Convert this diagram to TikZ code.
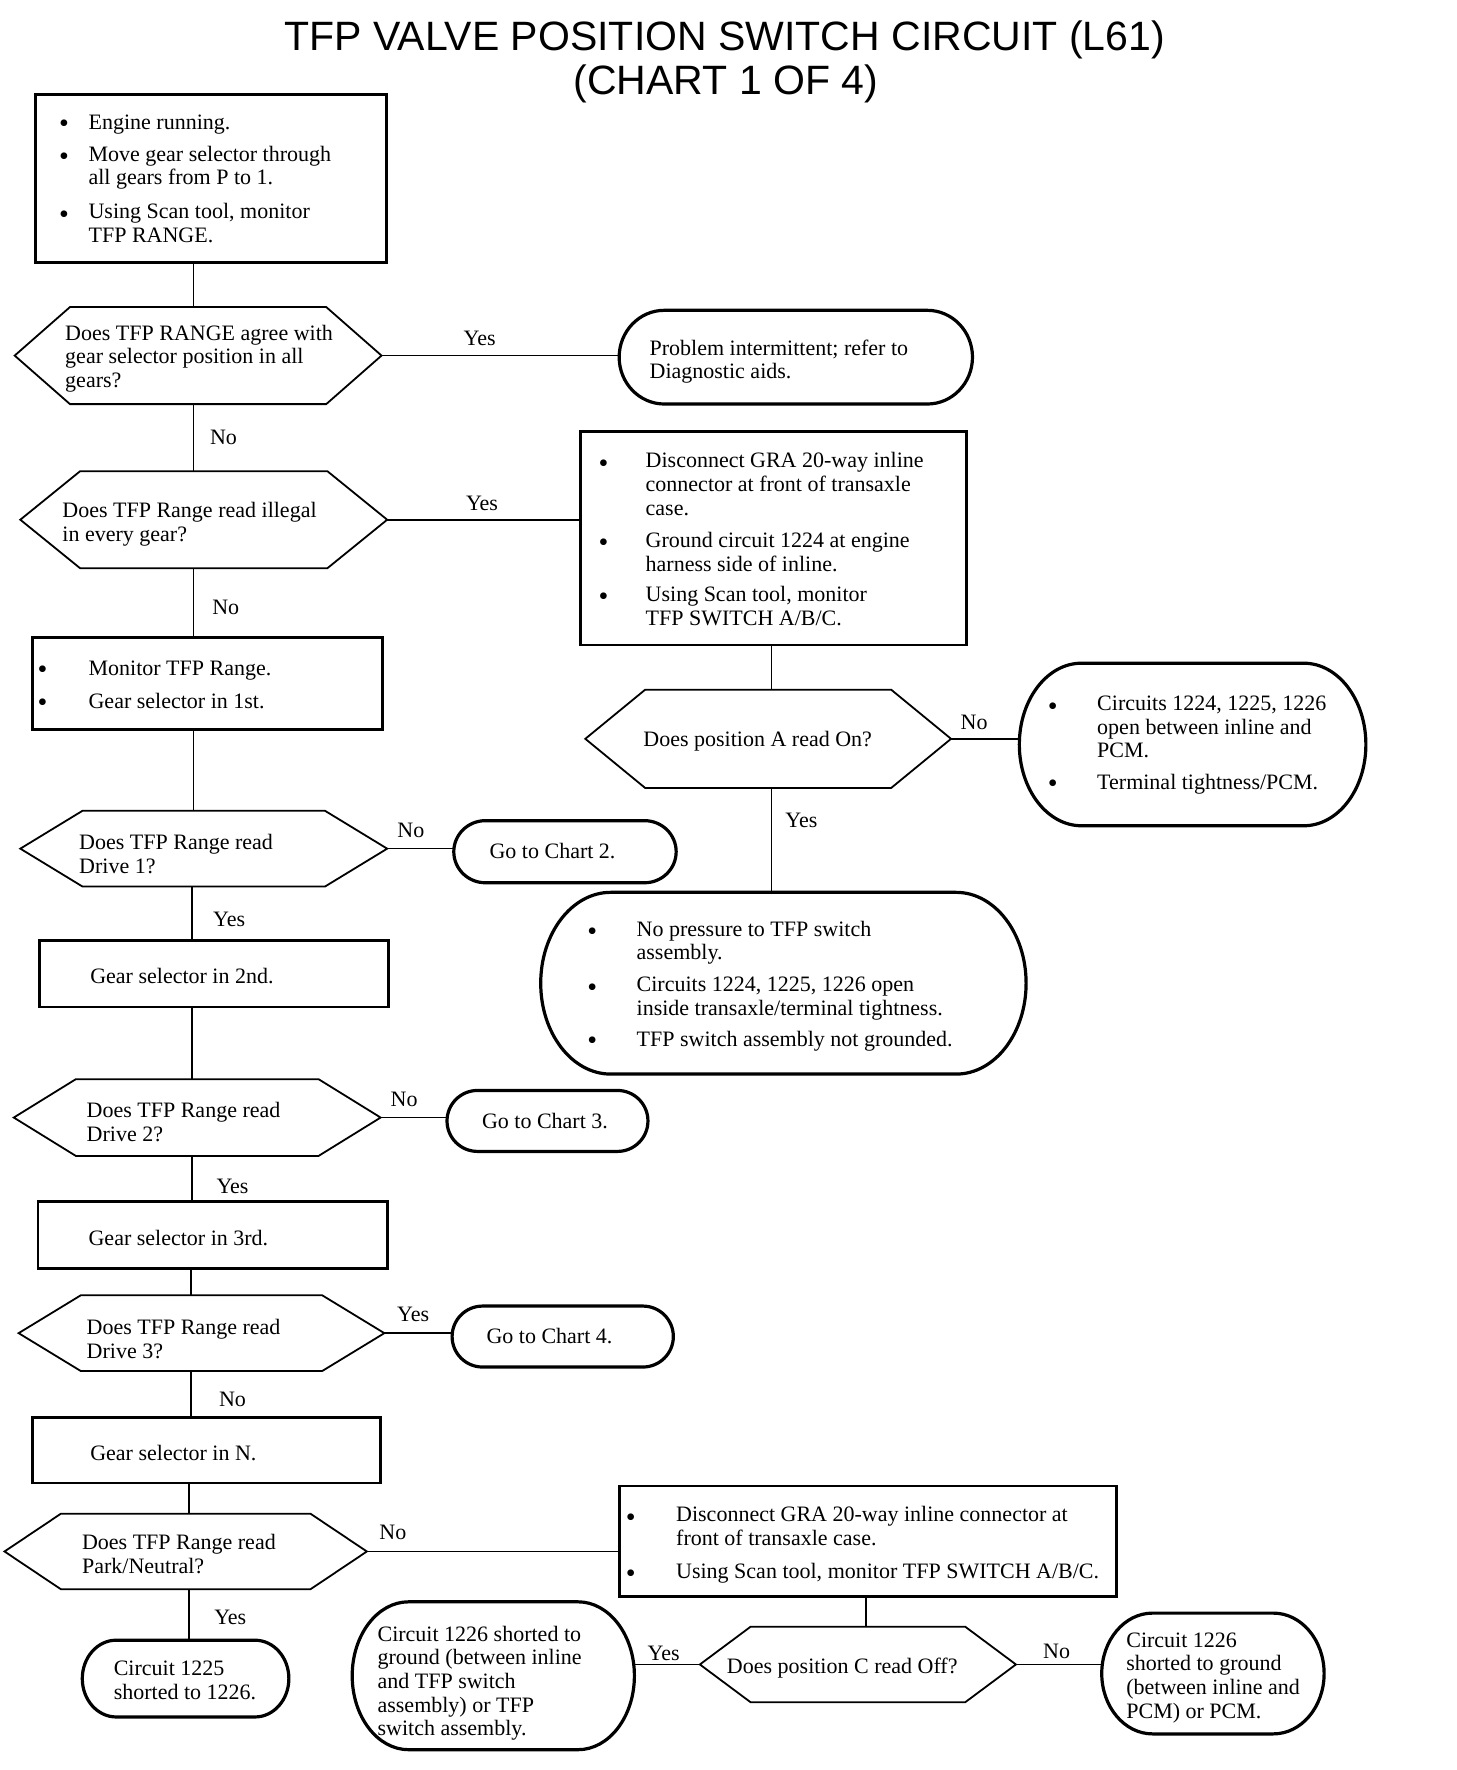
\documentclass[tikz,border=0pt]{standalone}
\usepackage{fontspec}
\setmainfont{Liberation Serif}
\newfontfamily\titlefont{Liberation Sans}
\newcommand\bodyfnt{\fontsize{11}{11.85}\selectfont}
\newcommand\ux{0.56434pt}
\tikzset{
  shapebox/.style={rectangle, inner sep=0pt, outer sep=0pt},
  rectbox/.style={shapebox, draw, line width=1.3pt},
  hexline/.style={line width=0.9pt, line join=miter},
  termline/.style={line width=1.6pt},
  conn/.style={line width=0.8pt},
  txt/.style={anchor=north west, inner sep=0pt, outer sep=0pt, align=left, font=\bodyfnt, yshift=8pt, execute at begin node={\rule{0pt}{8pt}}},
  bul/.style={anchor=base west, inner sep=0pt, font=\fontsize{14}{14}\selectfont, yshift=-1.8pt},
  lab/.style={anchor=base, inner sep=0pt, font=\bodyfnt},
}
% hexagon decision: name, cx, cy, w, h, inset
\newcommand\hexa[6]{%
  \node[shapebox, minimum width=#4*\ux, minimum height=#5*\ux] (#1) at (#2,-#3) {};
  \draw[hexline] (#1.west) -- ([xshift=#6*\ux]#1.north west) -- ([xshift=-#6*\ux]#1.north east) -- (#1.east) -- ([xshift=-#6*\ux]#1.south east) -- ([xshift=#6*\ux]#1.south west) -- cycle;
}
% terminal with elliptic ends: name, cx, cy, w, h, rx
\newcommand\stadium[6]{%
  \node[shapebox, minimum width=#4*\ux, minimum height=#5*\ux] (#1) at (#2,-#3) {};
  \draw[termline] ([xshift=#6*\ux]#1.north west) -- ([xshift=-#6*\ux]#1.north east) arc[start angle=90, end angle=-90, x radius=#6*\ux, y radius=#5*\ux/2] -- ([xshift=#6*\ux]#1.south west) arc[start angle=270, end angle=90, x radius=#6*\ux, y radius=#5*\ux/2] -- cycle;
}
\begin{document}
\begin{tikzpicture}[x=\ux, y=\ux]
\fill[white] (0,0) rectangle (1290,-1568);
\useasboundingbox (0,0) rectangle (1290,-1568);

% title
\node[anchor=base, inner sep=0pt, font=\titlefont\fontsize{20.5}{22}\selectfont] (title1) at (642,-44.3) {TFP VALVE POSITION SWITCH CIRCUIT (L61)};
\node[anchor=base, inner sep=0pt, font=\titlefont\fontsize{20.5}{22}\selectfont] (title2) at (643,-83.6) {(CHART 1 OF 4)};

% spine coordinates
\coordinate (spA) at (171.5,0);
\coordinate (spB) at (170,0);
\coordinate (spC) at (169,0);
\coordinate (spD) at (167.5,0);
\coordinate (spR) at (683.5,0);
\coordinate (spS) at (767,0);

% ---------- shapes ----------
\node[rectbox, minimum width=311*\ux, minimum height=149*\ux] (box1) at (186.7,-158) {};
\hexa{hex1}{175.5}{315}{325}{86}{49}
\stadium{term1}{705}{316.4}{313}{83}{40}
\hexa{hex2}{180.5}{460.4}{325}{86}{53}
\node[rectbox, minimum width=342*\ux, minimum height=189*\ux] (box2) at (685,-477) {};
\node[rectbox, minimum width=310*\ux, minimum height=81*\ux] (box3) at (184,-605.5) {};
\hexa{hex8}{680.5}{654.5}{324}{87}{53}
\stadium{term8}{1056.5}{659.5}{307}{144}{55}
\hexa{hex3}{180.5}{751.8}{325}{67}{55}
\stadium{term2}{500.5}{754.5}{197}{55}{28}
\stadium{term9}{694}{871}{430}{161}{62}
\node[rectbox, minimum width=309*\ux, minimum height=59*\ux] (box4) at (189.5,-862.4) {};
\hexa{hex4}{174.7}{990}{325}{68}{55}
\stadium{term3}{485}{993}{178}{54}{27}
\node[rectbox, minimum width=310*\ux, minimum height=59*\ux] (box5) at (188.5,-1094) {};
\hexa{hex5}{178.5}{1181}{324}{67}{55}
\stadium{term4}{498.5}{1184}{196}{54}{27}
\node[rectbox, minimum width=308*\ux, minimum height=58*\ux] (box6) at (183,-1284.6) {};
\hexa{hex6}{164.5}{1374.4}{321}{67}{50}
\node[rectbox, minimum width=440*\ux, minimum height=98*\ux] (box7) at (769,-1365.5) {};
\stadium{term5}{164.4}{1487}{183}{68}{30}
\hexa{hex7}{760}{1474.5}{280}{67}{45}
\stadium{term6}{437}{1484.5}{250}{131}{50}
\stadium{term7}{1074.5}{1482.5}{197}{107}{45}

% ---------- connectors ----------
\draw[conn] (box1.south -| spA) -- (hex1.north -| spA);
\draw[conn] (hex1.south -| spA) -- (hex2.north -| spA);
\draw[conn] (hex2.south -| spA) -- (box3.north -| spA);
\draw[conn] (box3.south -| spA) -- (hex3.north -| spA);
\draw[conn] (hex3.south -| spB) -- (box4.north -| spB);
\draw[conn] (box4.south -| spB) -- (hex4.north -| spB);
\draw[conn] (hex4.south -| spB) -- (box5.north -| spB);
\draw[conn] (box5.south -| spC) -- (hex5.north -| spC);
\draw[conn] (hex5.south -| spC) -- (box6.north -| spC);
\draw[conn] (box6.south -| spD) -- (hex6.north -| spD);
\draw[conn] (hex6.south -| spD) -- (term5.north -| spD);
\draw[conn] (box2.south -| spR) -- (hex8.north -| spR);
\draw[conn] (hex8.south -| spR) -- (term9.north -| spR);
\draw[conn] (box7.south -| spS) -- (hex7.north -| spS);
\draw[conn] (hex1.east) -- (hex1.east -| term1.west);
\draw[conn] (hex2.east) -- (hex2.east -| box2.west);
\draw[conn] (hex3.east) -- (hex3.east -| term2.west);
\draw[conn] (hex4.east) -- (hex4.east -| term3.west);
\draw[conn] (hex5.east) -- (hex5.east -| term4.west);
\draw[conn] (hex6.east) -- (hex6.east -| box7.west);
\draw[conn] (hex8.east) -- (hex8.east -| term8.west);
\draw[conn] (hex7.west) -- (hex7.west -| term6.east);
\draw[conn] (hex7.east) -- (hex7.east -| term7.west);

% ---------- labels ----------
\node[lab] (l1) at (425,-306) {Yes};
\node[lab] (l2) at (198,-394) {No};
\node[lab] (l3) at (427,-452) {Yes};
\node[lab] (l4) at (200,-544) {No};
\node[lab] (l5) at (364,-742) {No};
\node[lab] (l6) at (203,-821) {Yes};
\node[lab] (l7) at (358,-980) {No};
\node[lab] (l8) at (206,-1057) {Yes};
\node[lab] (l9) at (366,-1171) {Yes};
\node[lab] (l10) at (206,-1246) {No};
\node[lab] (l11) at (348,-1364) {No};
\node[lab] (l12) at (204,-1439) {Yes};
\node[lab] (l13) at (863,-646) {No};
\node[lab] (l14) at (710,-733) {Yes};
\node[lab] (l15) at (588,-1471) {Yes};
\node[lab] (l16) at (936,-1469) {No};

% ---------- texts ----------
% box1
\node[bul] (b1a) at (52,-114.5) {\textbullet};
\node[txt] (t1a) at (78.5,-114.5) {Engine running.};
\node[bul] (b1b) at (52,-143.5) {\textbullet};
\node[txt] (t1b) at (78.5,-143.5) {Move gear selector through\\all gears from P to 1.};
\node[bul] (b1c) at (52,-194.5) {\textbullet};
\node[txt] (t1c) at (78.5,-194.5) {Using Scan tool, monitor\\TFP RANGE.};
% hex1
\node[txt] (th1) at (57.8,-302) {Does TFP RANGE agree with\\gear selector position in all\\gears?};
% term1
\node[txt] (tt1) at (575.5,-315) {Problem intermittent; refer to\\Diagnostic aids.};
% hex2
\node[txt] (th2) at (55.3,-459.3) {Does TFP Range read illegal\\in every gear?};
% box2
\node[bul] (b2a) at (530,-415) {\textbullet};
\node[txt] (t2a) at (572,-415) {Disconnect GRA 20-way inline\\connector at front of transaxle\\case.};
\node[bul] (b2b) at (530,-485.5) {\textbullet};
\node[txt] (t2b) at (572,-485.5) {Ground circuit 1224 at engine\\harness side of inline.};
\node[bul] (b2c) at (530,-533.5) {\textbullet};
\node[txt] (t2c) at (572,-533.5) {Using Scan tool, monitor\\TFP SWITCH A/B/C.};
% box3
\node[bul] (b3a) at (33,-598) {\textbullet};
\node[txt] (t3a) at (78.5,-598) {Monitor TFP Range.};
\node[bul] (b3b) at (33,-627.5) {\textbullet};
\node[txt] (t3b) at (78.5,-627.5) {Gear selector in 1st.};
% hex8
\node[txt] (th8) at (570,-661.5) {Does position A read On?};
% term8
\node[bul] (b8a) at (928,-630.5) {\textbullet};
\node[txt] (t8a) at (972,-630.5) {Circuits 1224, 1225, 1226\\open between inline and\\PCM.};
\node[bul] (b8b) at (928,-699.3) {\textbullet};
\node[txt] (t8b) at (972,-699.3) {Terminal tightness/PCM.};
% hex3
\node[txt] (th3) at (70.2,-753.2) {Does TFP Range read\\Drive 1?};
% term2
\node[txt] (tt2) at (433.7,-760.4) {Go to Chart 2.};
% term9
\node[bul] (b9a) at (520,-829.9) {\textbullet};
\node[txt] (t9a) at (564,-829.9) {No pressure to TFP switch\\assembly.};
\node[bul] (b9b) at (520,-879.5) {\textbullet};
\node[txt] (t9b) at (564,-879.5) {Circuits 1224, 1225, 1226 open\\inside transaxle/terminal tightness.};
\node[bul] (b9c) at (520,-926.7) {\textbullet};
\node[txt] (t9c) at (564,-926.7) {TFP switch assembly not grounded.};
% box4
\node[txt] (t4) at (80,-871) {Gear selector in 2nd.};
% hex4
\node[txt] (th4) at (76.8,-990.7) {Does TFP Range read\\Drive 2?};
% term3
\node[txt] (tt3) at (427,-999.6) {Go to Chart 3.};
% box5
\node[txt] (t5) at (78.5,-1103) {Gear selector in 3rd.};
% hex5
\node[txt] (th5) at (76.8,-1182.8) {Does TFP Range read\\Drive 3?};
% term4
\node[txt] (tt4) at (431,-1190.2) {Go to Chart 4.};
% box6
\node[txt] (t6) at (80,-1293.5) {Gear selector in N.};
% hex6
\node[txt] (th6) at (72.7,-1373.3) {Does TFP Range read\\Park/Neutral?};
% box7
\node[bul] (b7a) at (554,-1348.7) {\textbullet};
\node[txt] (t7a) at (599,-1348.7) {Disconnect GRA 20-way inline connector at\\front of transaxle case.};
\node[bul] (b7b) at (554,-1398.4) {\textbullet};
\node[txt] (t7b) at (599,-1398.4) {Using Scan tool, monitor TFP SWITCH A/B/C.};
% term5
\node[txt] (tt5) at (100.8,-1485.5) {Circuit 1225\\shorted to 1226.};
% hex7
\node[txt] (th7) at (644,-1482.5) {Does position C read Off?};
% term6
\node[txt] (tt6) at (334.5,-1454.5) {Circuit 1226 shorted to\\ground (between inline\\and TFP switch\\assembly) or TFP\\switch assembly.};
% term7
\node[txt] (tt7) at (997.8,-1460.4) {Circuit 1226\\shorted to ground\\(between inline and\\PCM) or PCM.};
\end{tikzpicture}
\end{document}
